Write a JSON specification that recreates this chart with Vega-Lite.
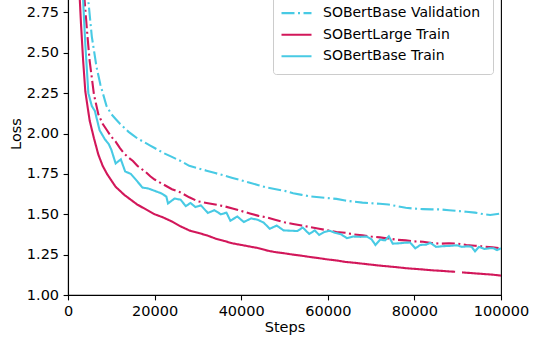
{
  "$schema": "https://vega.github.io/schema/vega-lite/v6.json",
  "width": 433,
  "height": 323,
  "autosize": {"type": "none"},
  "padding": {"left": 68, "top": -28, "right": 37, "bottom": 50},
  "background": "white",
  "config": {
    "font": "DejaVu Sans",
    "view": {"stroke": "black", "strokeWidth": 1.1},
    "axis": {
      "grid": false,
      "domainColor": "black",
      "domainWidth": 1.1,
      "tickColor": "black",
      "tickWidth": 1.1,
      "tickSize": 4.9,
      "labelFont": "DejaVu Sans",
      "labelFontSize": 14.5,
      "labelColor": "black",
      "labelPadding": 4.5,
      "titleFont": "DejaVu Sans",
      "titleFontSize": 14.5,
      "titleFontWeight": "normal",
      "titleColor": "black"
    },
    "legend": {
      "orient": "none",
      "legendX": 205,
      "legendY": 2,
      "title": null,
      "padding": 7,
      "fillColor": "rgba(255,255,255,0.8)",
      "strokeColor": "#cccccc",
      "cornerRadius": 3,
      "symbolType": "stroke",
      "symbolSize": 900,
      "symbolStrokeWidth": 2.1,
      "labelFont": "DejaVu Sans",
      "labelFontSize": 14,
      "labelColor": "black",
      "labelOffset": 10,
      "labelLimit": 400,
      "rowPadding": 0.6,
      "clipHeight": 21
    }
  },
  "data": {
    "values": [
      {"series": "SOBertLarge Validation", "step": 1000, "loss": 6.0},
      {"series": "SOBertLarge Validation", "step": 2000, "loss": 4.2},
      {"series": "SOBertLarge Validation", "step": 3000, "loss": 3.3},
      {"series": "SOBertLarge Validation", "step": 3850, "loss": 2.82},
      {"series": "SOBertLarge Validation", "step": 4500, "loss": 2.6},
      {"series": "SOBertLarge Validation", "step": 5000, "loss": 2.45},
      {"series": "SOBertLarge Validation", "step": 6000, "loss": 2.24},
      {"series": "SOBertLarge Validation", "step": 7000, "loss": 2.12},
      {"series": "SOBertLarge Validation", "step": 8000, "loss": 2.06},
      {"series": "SOBertLarge Validation", "step": 9000, "loss": 2.02},
      {"series": "SOBertLarge Validation", "step": 10000, "loss": 1.98},
      {"series": "SOBertLarge Validation", "step": 11000, "loss": 1.95},
      {"series": "SOBertLarge Validation", "step": 12000, "loss": 1.91},
      {"series": "SOBertLarge Validation", "step": 13000, "loss": 1.875},
      {"series": "SOBertLarge Validation", "step": 14000, "loss": 1.85},
      {"series": "SOBertLarge Validation", "step": 15000, "loss": 1.83},
      {"series": "SOBertLarge Validation", "step": 16000, "loss": 1.8},
      {"series": "SOBertLarge Validation", "step": 17000, "loss": 1.78},
      {"series": "SOBertLarge Validation", "step": 18000, "loss": 1.76},
      {"series": "SOBertLarge Validation", "step": 19000, "loss": 1.735},
      {"series": "SOBertLarge Validation", "step": 20000, "loss": 1.715},
      {"series": "SOBertLarge Validation", "step": 22000, "loss": 1.685},
      {"series": "SOBertLarge Validation", "step": 24000, "loss": 1.655},
      {"series": "SOBertLarge Validation", "step": 26000, "loss": 1.635},
      {"series": "SOBertLarge Validation", "step": 28000, "loss": 1.605},
      {"series": "SOBertLarge Validation", "step": 30000, "loss": 1.58},
      {"series": "SOBertLarge Validation", "step": 32000, "loss": 1.57},
      {"series": "SOBertLarge Validation", "step": 34000, "loss": 1.56},
      {"series": "SOBertLarge Validation", "step": 36000, "loss": 1.55},
      {"series": "SOBertLarge Validation", "step": 38000, "loss": 1.536},
      {"series": "SOBertLarge Validation", "step": 40000, "loss": 1.52},
      {"series": "SOBertLarge Validation", "step": 42000, "loss": 1.505},
      {"series": "SOBertLarge Validation", "step": 44000, "loss": 1.49},
      {"series": "SOBertLarge Validation", "step": 46000, "loss": 1.48},
      {"series": "SOBertLarge Validation", "step": 48000, "loss": 1.465},
      {"series": "SOBertLarge Validation", "step": 50000, "loss": 1.45},
      {"series": "SOBertLarge Validation", "step": 52000, "loss": 1.44},
      {"series": "SOBertLarge Validation", "step": 54000, "loss": 1.43},
      {"series": "SOBertLarge Validation", "step": 56000, "loss": 1.42},
      {"series": "SOBertLarge Validation", "step": 58000, "loss": 1.41},
      {"series": "SOBertLarge Validation", "step": 60000, "loss": 1.4},
      {"series": "SOBertLarge Validation", "step": 62000, "loss": 1.39},
      {"series": "SOBertLarge Validation", "step": 64000, "loss": 1.385},
      {"series": "SOBertLarge Validation", "step": 66000, "loss": 1.375},
      {"series": "SOBertLarge Validation", "step": 68000, "loss": 1.37},
      {"series": "SOBertLarge Validation", "step": 70000, "loss": 1.362},
      {"series": "SOBertLarge Validation", "step": 72000, "loss": 1.357},
      {"series": "SOBertLarge Validation", "step": 74000, "loss": 1.35},
      {"series": "SOBertLarge Validation", "step": 76000, "loss": 1.342},
      {"series": "SOBertLarge Validation", "step": 78000, "loss": 1.338},
      {"series": "SOBertLarge Validation", "step": 80000, "loss": 1.332},
      {"series": "SOBertLarge Validation", "step": 82000, "loss": 1.33},
      {"series": "SOBertLarge Validation", "step": 84000, "loss": 1.322},
      {"series": "SOBertLarge Validation", "step": 86000, "loss": 1.318},
      {"series": "SOBertLarge Validation", "step": 88000, "loss": 1.32},
      {"series": "SOBertLarge Validation", "step": 90000, "loss": 1.318},
      {"series": "SOBertLarge Validation", "step": 92000, "loss": 1.31},
      {"series": "SOBertLarge Validation", "step": 94000, "loss": 1.305},
      {"series": "SOBertLarge Validation", "step": 96000, "loss": 1.3},
      {"series": "SOBertLarge Validation", "step": 98000, "loss": 1.295},
      {"series": "SOBertLarge Validation", "step": 100000, "loss": 1.29},

      {"series": "SOBertBase Validation", "step": 1000, "loss": 7.0},
      {"series": "SOBertBase Validation", "step": 2000, "loss": 5.0},
      {"series": "SOBertBase Validation", "step": 3000, "loss": 3.8},
      {"series": "SOBertBase Validation", "step": 4000, "loss": 3.1},
      {"series": "SOBertBase Validation", "step": 4700, "loss": 2.82},
      {"series": "SOBertBase Validation", "step": 5500, "loss": 2.6},
      {"series": "SOBertBase Validation", "step": 6600, "loss": 2.41},
      {"series": "SOBertBase Validation", "step": 7500, "loss": 2.3},
      {"series": "SOBertBase Validation", "step": 8900, "loss": 2.17},
      {"series": "SOBertBase Validation", "step": 10000, "loss": 2.12},
      {"series": "SOBertBase Validation", "step": 11000, "loss": 2.09},
      {"series": "SOBertBase Validation", "step": 12000, "loss": 2.06},
      {"series": "SOBertBase Validation", "step": 13000, "loss": 2.035},
      {"series": "SOBertBase Validation", "step": 14000, "loss": 2.01},
      {"series": "SOBertBase Validation", "step": 15000, "loss": 1.99},
      {"series": "SOBertBase Validation", "step": 16000, "loss": 1.97},
      {"series": "SOBertBase Validation", "step": 17000, "loss": 1.955},
      {"series": "SOBertBase Validation", "step": 18000, "loss": 1.94},
      {"series": "SOBertBase Validation", "step": 19000, "loss": 1.925},
      {"series": "SOBertBase Validation", "step": 20000, "loss": 1.91},
      {"series": "SOBertBase Validation", "step": 22000, "loss": 1.88},
      {"series": "SOBertBase Validation", "step": 24000, "loss": 1.855},
      {"series": "SOBertBase Validation", "step": 26000, "loss": 1.83},
      {"series": "SOBertBase Validation", "step": 28000, "loss": 1.8},
      {"series": "SOBertBase Validation", "step": 30000, "loss": 1.785},
      {"series": "SOBertBase Validation", "step": 32000, "loss": 1.77},
      {"series": "SOBertBase Validation", "step": 34000, "loss": 1.755},
      {"series": "SOBertBase Validation", "step": 36000, "loss": 1.74},
      {"series": "SOBertBase Validation", "step": 38000, "loss": 1.725},
      {"series": "SOBertBase Validation", "step": 40000, "loss": 1.71},
      {"series": "SOBertBase Validation", "step": 42000, "loss": 1.695},
      {"series": "SOBertBase Validation", "step": 44000, "loss": 1.68},
      {"series": "SOBertBase Validation", "step": 46000, "loss": 1.665},
      {"series": "SOBertBase Validation", "step": 48000, "loss": 1.655},
      {"series": "SOBertBase Validation", "step": 50000, "loss": 1.645},
      {"series": "SOBertBase Validation", "step": 52000, "loss": 1.63},
      {"series": "SOBertBase Validation", "step": 54000, "loss": 1.62},
      {"series": "SOBertBase Validation", "step": 56000, "loss": 1.61},
      {"series": "SOBertBase Validation", "step": 58000, "loss": 1.605},
      {"series": "SOBertBase Validation", "step": 60000, "loss": 1.6},
      {"series": "SOBertBase Validation", "step": 62000, "loss": 1.595},
      {"series": "SOBertBase Validation", "step": 64000, "loss": 1.585},
      {"series": "SOBertBase Validation", "step": 66000, "loss": 1.578},
      {"series": "SOBertBase Validation", "step": 68000, "loss": 1.572},
      {"series": "SOBertBase Validation", "step": 70000, "loss": 1.568},
      {"series": "SOBertBase Validation", "step": 72000, "loss": 1.565},
      {"series": "SOBertBase Validation", "step": 74000, "loss": 1.56},
      {"series": "SOBertBase Validation", "step": 76000, "loss": 1.55},
      {"series": "SOBertBase Validation", "step": 78000, "loss": 1.54},
      {"series": "SOBertBase Validation", "step": 80000, "loss": 1.535},
      {"series": "SOBertBase Validation", "step": 82000, "loss": 1.532},
      {"series": "SOBertBase Validation", "step": 84000, "loss": 1.53},
      {"series": "SOBertBase Validation", "step": 86000, "loss": 1.53},
      {"series": "SOBertBase Validation", "step": 88000, "loss": 1.525},
      {"series": "SOBertBase Validation", "step": 90000, "loss": 1.52},
      {"series": "SOBertBase Validation", "step": 92000, "loss": 1.515},
      {"series": "SOBertBase Validation", "step": 94000, "loss": 1.51},
      {"series": "SOBertBase Validation", "step": 96000, "loss": 1.5},
      {"series": "SOBertBase Validation", "step": 97500, "loss": 1.495},
      {"series": "SOBertBase Validation", "step": 100000, "loss": 1.505},

      {"series": "SOBertLarge Train", "step": 1000, "loss": 5.0},
      {"series": "SOBertLarge Train", "step": 2000, "loss": 3.3},
      {"series": "SOBertLarge Train", "step": 2500, "loss": 2.95},
      {"series": "SOBertLarge Train", "step": 3000, "loss": 2.68},
      {"series": "SOBertLarge Train", "step": 3500, "loss": 2.45},
      {"series": "SOBertLarge Train", "step": 4000, "loss": 2.26},
      {"series": "SOBertLarge Train", "step": 5000, "loss": 2.08},
      {"series": "SOBertLarge Train", "step": 6000, "loss": 1.97},
      {"series": "SOBertLarge Train", "step": 7000, "loss": 1.87},
      {"series": "SOBertLarge Train", "step": 8000, "loss": 1.8},
      {"series": "SOBertLarge Train", "step": 9000, "loss": 1.75},
      {"series": "SOBertLarge Train", "step": 10000, "loss": 1.71},
      {"series": "SOBertLarge Train", "step": 11000, "loss": 1.67},
      {"series": "SOBertLarge Train", "step": 12000, "loss": 1.645},
      {"series": "SOBertLarge Train", "step": 13000, "loss": 1.62},
      {"series": "SOBertLarge Train", "step": 14000, "loss": 1.6},
      {"series": "SOBertLarge Train", "step": 15000, "loss": 1.58},
      {"series": "SOBertLarge Train", "step": 16000, "loss": 1.56},
      {"series": "SOBertLarge Train", "step": 17000, "loss": 1.545},
      {"series": "SOBertLarge Train", "step": 18000, "loss": 1.53},
      {"series": "SOBertLarge Train", "step": 19000, "loss": 1.515},
      {"series": "SOBertLarge Train", "step": 20000, "loss": 1.5},
      {"series": "SOBertLarge Train", "step": 22000, "loss": 1.48},
      {"series": "SOBertLarge Train", "step": 24000, "loss": 1.455},
      {"series": "SOBertLarge Train", "step": 26000, "loss": 1.425},
      {"series": "SOBertLarge Train", "step": 28000, "loss": 1.4},
      {"series": "SOBertLarge Train", "step": 30000, "loss": 1.385},
      {"series": "SOBertLarge Train", "step": 32000, "loss": 1.37},
      {"series": "SOBertLarge Train", "step": 34000, "loss": 1.35},
      {"series": "SOBertLarge Train", "step": 36000, "loss": 1.335},
      {"series": "SOBertLarge Train", "step": 38000, "loss": 1.32},
      {"series": "SOBertLarge Train", "step": 40000, "loss": 1.31},
      {"series": "SOBertLarge Train", "step": 42000, "loss": 1.3},
      {"series": "SOBertLarge Train", "step": 44000, "loss": 1.29},
      {"series": "SOBertLarge Train", "step": 46000, "loss": 1.275},
      {"series": "SOBertLarge Train", "step": 48000, "loss": 1.265},
      {"series": "SOBertLarge Train", "step": 50000, "loss": 1.258},
      {"series": "SOBertLarge Train", "step": 52000, "loss": 1.25},
      {"series": "SOBertLarge Train", "step": 54000, "loss": 1.243},
      {"series": "SOBertLarge Train", "step": 56000, "loss": 1.235},
      {"series": "SOBertLarge Train", "step": 58000, "loss": 1.228},
      {"series": "SOBertLarge Train", "step": 60000, "loss": 1.22},
      {"series": "SOBertLarge Train", "step": 62000, "loss": 1.214},
      {"series": "SOBertLarge Train", "step": 64000, "loss": 1.205},
      {"series": "SOBertLarge Train", "step": 66000, "loss": 1.2},
      {"series": "SOBertLarge Train", "step": 68000, "loss": 1.194},
      {"series": "SOBertLarge Train", "step": 70000, "loss": 1.188},
      {"series": "SOBertLarge Train", "step": 72000, "loss": 1.182},
      {"series": "SOBertLarge Train", "step": 74000, "loss": 1.177},
      {"series": "SOBertLarge Train", "step": 76000, "loss": 1.172},
      {"series": "SOBertLarge Train", "step": 78000, "loss": 1.166},
      {"series": "SOBertLarge Train", "step": 80000, "loss": 1.162},
      {"series": "SOBertLarge Train", "step": 82000, "loss": 1.158},
      {"series": "SOBertLarge Train", "step": 84000, "loss": 1.153},
      {"series": "SOBertLarge Train", "step": 86000, "loss": 1.15},
      {"series": "SOBertLarge Train", "step": 88000, "loss": 1.146},
      {"series": "SOBertLarge Train", "step": 89400, "loss": 1.144},
      {"series": "SOBertLarge Train", "step": 90200, "loss": null},
      {"series": "SOBertLarge Train", "step": 91000, "loss": 1.14},
      {"series": "SOBertLarge Train", "step": 92000, "loss": 1.138},
      {"series": "SOBertLarge Train", "step": 94000, "loss": 1.134},
      {"series": "SOBertLarge Train", "step": 96000, "loss": 1.13},
      {"series": "SOBertLarge Train", "step": 98000, "loss": 1.126},
      {"series": "SOBertLarge Train", "step": 100000, "loss": 1.12},

      {"series": "SOBertBase Train", "step": 1000, "loss": 6.0},
      {"series": "SOBertBase Train", "step": 2000, "loss": 4.0},
      {"series": "SOBertBase Train", "step": 3000, "loss": 3.1},
      {"series": "SOBertBase Train", "step": 3500, "loss": 2.82},
      {"series": "SOBertBase Train", "step": 4000, "loss": 2.55},
      {"series": "SOBertBase Train", "step": 4700, "loss": 2.25},
      {"series": "SOBertBase Train", "step": 5500, "loss": 2.17},
      {"series": "SOBertBase Train", "step": 6200, "loss": 2.14},
      {"series": "SOBertBase Train", "step": 7300, "loss": 2.02},
      {"series": "SOBertBase Train", "step": 8500, "loss": 1.965},
      {"series": "SOBertBase Train", "step": 9400, "loss": 1.935},
      {"series": "SOBertBase Train", "step": 10000, "loss": 1.9},
      {"series": "SOBertBase Train", "step": 11000, "loss": 1.815},
      {"series": "SOBertBase Train", "step": 12200, "loss": 1.84},
      {"series": "SOBertBase Train", "step": 13200, "loss": 1.765},
      {"series": "SOBertBase Train", "step": 14500, "loss": 1.75},
      {"series": "SOBertBase Train", "step": 15800, "loss": 1.71},
      {"series": "SOBertBase Train", "step": 17200, "loss": 1.665},
      {"series": "SOBertBase Train", "step": 18500, "loss": 1.66},
      {"series": "SOBertBase Train", "step": 20000, "loss": 1.645},
      {"series": "SOBertBase Train", "step": 21500, "loss": 1.63},
      {"series": "SOBertBase Train", "step": 22700, "loss": 1.61},
      {"series": "SOBertBase Train", "step": 23100, "loss": 1.567},
      {"series": "SOBertBase Train", "step": 24600, "loss": 1.597},
      {"series": "SOBertBase Train", "step": 26000, "loss": 1.59},
      {"series": "SOBertBase Train", "step": 27200, "loss": 1.55},
      {"series": "SOBertBase Train", "step": 28300, "loss": 1.57},
      {"series": "SOBertBase Train", "step": 29400, "loss": 1.545},
      {"series": "SOBertBase Train", "step": 30700, "loss": 1.555},
      {"series": "SOBertBase Train", "step": 32300, "loss": 1.508},
      {"series": "SOBertBase Train", "step": 33800, "loss": 1.525},
      {"series": "SOBertBase Train", "step": 35300, "loss": 1.5},
      {"series": "SOBertBase Train", "step": 36600, "loss": 1.51},
      {"series": "SOBertBase Train", "step": 37500, "loss": 1.46},
      {"series": "SOBertBase Train", "step": 39100, "loss": 1.486},
      {"series": "SOBertBase Train", "step": 40600, "loss": 1.452},
      {"series": "SOBertBase Train", "step": 42300, "loss": 1.474},
      {"series": "SOBertBase Train", "step": 43800, "loss": 1.466},
      {"series": "SOBertBase Train", "step": 45200, "loss": 1.448},
      {"series": "SOBertBase Train", "step": 46600, "loss": 1.41},
      {"series": "SOBertBase Train", "step": 48200, "loss": 1.43},
      {"series": "SOBertBase Train", "step": 49800, "loss": 1.4},
      {"series": "SOBertBase Train", "step": 51500, "loss": 1.398},
      {"series": "SOBertBase Train", "step": 53000, "loss": 1.396},
      {"series": "SOBertBase Train", "step": 54200, "loss": 1.418},
      {"series": "SOBertBase Train", "step": 55700, "loss": 1.378},
      {"series": "SOBertBase Train", "step": 57000, "loss": 1.4},
      {"series": "SOBertBase Train", "step": 58000, "loss": 1.372},
      {"series": "SOBertBase Train", "step": 59200, "loss": 1.39},
      {"series": "SOBertBase Train", "step": 60400, "loss": 1.398},
      {"series": "SOBertBase Train", "step": 61700, "loss": 1.385},
      {"series": "SOBertBase Train", "step": 63000, "loss": 1.377},
      {"series": "SOBertBase Train", "step": 64400, "loss": 1.352},
      {"series": "SOBertBase Train", "step": 65800, "loss": 1.362},
      {"series": "SOBertBase Train", "step": 67500, "loss": 1.36},
      {"series": "SOBertBase Train", "step": 69000, "loss": 1.362},
      {"series": "SOBertBase Train", "step": 70100, "loss": 1.345},
      {"series": "SOBertBase Train", "step": 71000, "loss": 1.31},
      {"series": "SOBertBase Train", "step": 72100, "loss": 1.343},
      {"series": "SOBertBase Train", "step": 73200, "loss": 1.338},
      {"series": "SOBertBase Train", "step": 74100, "loss": 1.363},
      {"series": "SOBertBase Train", "step": 75000, "loss": 1.318},
      {"series": "SOBertBase Train", "step": 76500, "loss": 1.32},
      {"series": "SOBertBase Train", "step": 78000, "loss": 1.324},
      {"series": "SOBertBase Train", "step": 79000, "loss": 1.325},
      {"series": "SOBertBase Train", "step": 80200, "loss": 1.289},
      {"series": "SOBertBase Train", "step": 81400, "loss": 1.31},
      {"series": "SOBertBase Train", "step": 82700, "loss": 1.312},
      {"series": "SOBertBase Train", "step": 83700, "loss": 1.323},
      {"series": "SOBertBase Train", "step": 85000, "loss": 1.298},
      {"series": "SOBertBase Train", "step": 86500, "loss": 1.302},
      {"series": "SOBertBase Train", "step": 88000, "loss": 1.304},
      {"series": "SOBertBase Train", "step": 89800, "loss": 1.308},
      {"series": "SOBertBase Train", "step": 91000, "loss": 1.298},
      {"series": "SOBertBase Train", "step": 92300, "loss": 1.302},
      {"series": "SOBertBase Train", "step": 93200, "loss": 1.299},
      {"series": "SOBertBase Train", "step": 94000, "loss": 1.27},
      {"series": "SOBertBase Train", "step": 94900, "loss": 1.298},
      {"series": "SOBertBase Train", "step": 96200, "loss": 1.285},
      {"series": "SOBertBase Train", "step": 97500, "loss": 1.29},
      {"series": "SOBertBase Train", "step": 98300, "loss": 1.289},
      {"series": "SOBertBase Train", "step": 99100, "loss": 1.278},
      {"series": "SOBertBase Train", "step": 100000, "loss": 1.289}
    ]
  },
  "mark": {"type": "line", "strokeWidth": 2.1, "clip": true, "invalid": "break-paths-show-domains"},
  "encoding": {
    "x": {
      "field": "step",
      "type": "quantitative",
      "scale": {"domain": [0, 100000], "nice": false, "zero": false},
      "axis": {"values": [0, 20000, 40000, 60000, 80000, 100000], "format": "d", "title": "Steps", "titlePadding": 3, "labelFlush": false}
    },
    "y": {
      "field": "loss",
      "type": "quantitative",
      "scale": {"domain": [1, 3], "nice": false, "zero": false},
      "axis": {"values": [1, 1.25, 1.5, 1.75, 2, 2.25, 2.5, 2.75], "format": ".2f", "title": "Loss", "titlePadding": 3}
    },
    "color": {
      "field": "series",
      "type": "nominal",
      "sort": null,
      "scale": {
        "domain": ["SOBertLarge Validation", "SOBertBase Validation", "SOBertLarge Train", "SOBertBase Train"],
        "range": ["#D2175A", "#48CAE4", "#D2175A", "#48CAE4"]
      }
    },
    "strokeDash": {
      "field": "series",
      "type": "nominal",
      "sort": null,
      "scale": {
        "domain": ["SOBertLarge Validation", "SOBertBase Validation", "SOBertLarge Train", "SOBertBase Train"],
        "range": [[13, 3.5, 2, 3.5], [13, 3.5, 2, 3.5], [1, 0], [1, 0]]
      }
    }
  }
}
